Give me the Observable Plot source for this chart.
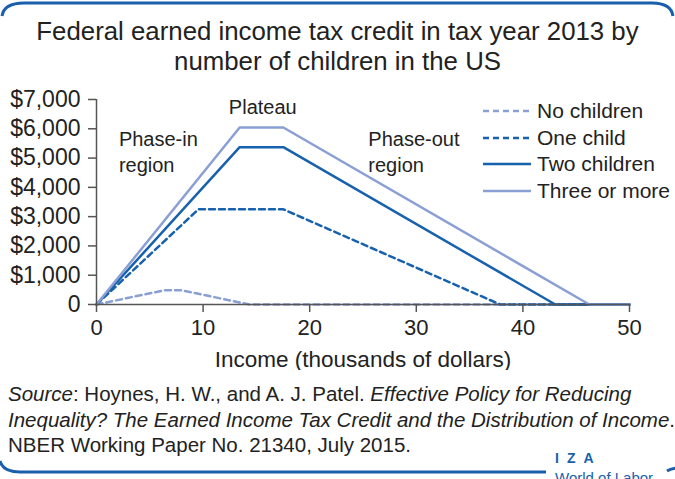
<!DOCTYPE html>
<html><head><meta charset="utf-8">
<script src="https://cdn.jsdelivr.net/npm/d3@7"></script>
<script src="https://cdn.jsdelivr.net/npm/@observablehq/plot@0.6"></script>
<style>
body{margin:0;background:#fff;font-family:"Liberation Sans",Arial,sans-serif;color:#222}
#wrap{position:relative;width:675px;height:479px;overflow:hidden;background:#fff}
#title{position:absolute;top:16px;left:0;width:675px;text-align:center;font-size:25.8px;line-height:30px;color:#222}
#chart{position:absolute;top:80px;left:0}
#legend{position:absolute;left:483px;top:98px;font-size:21px;color:#222}
.row{display:flex;align-items:center;height:26.5px}
.row svg{margin-right:6px}
#caption{position:absolute;left:8px;top:381px;font-size:20.5px;line-height:25.5px;color:#222;white-space:nowrap}
#frame{position:absolute;left:0;top:0}
#iza{position:absolute;left:555px;top:451px;color:#1761ad;font-weight:bold;font-size:14px;line-height:14px;letter-spacing:8px}
#wol{position:absolute;left:555px;top:470px;color:#1761ad;font-size:15px;line-height:15px}
</style></head>
<body>
<div id="wrap">
  <svg id="frame" width="675" height="479">
    <path d="M2,16 Q4,3 24,3 L652,3 Q671,3 673,16" fill="none" stroke="#1a5fac" stroke-width="3"/>
    <path d="M0,461 Q3,472 20,472 L546,472" fill="none" stroke="#1a5fac" stroke-width="3"/>
    <path d="M667,471 Q670,469 676,468" fill="none" stroke="#1a5fac" stroke-width="3"/>
  </svg>
  <div id="title">Federal earned income tax credit in tax year 2013 by<br>number of children in the US</div>
  <div id="chart"></div>
  <div id="legend"></div>
  <div id="caption"><i>Source</i>: Hoynes, H. W., and A. J. Patel. <i>Effective Policy for Reducing</i><br><i>Inequality? The Earned Income Tax Credit and the Distribution of Income</i>.<br>NBER Working Paper No. 21340, July 2015.</div>
  <div id="iza">IZA</div>
  <div id="wol">World of Labor</div>
</div>
<script>
// Data: EITC by income (thousands of dollars)
const seriesNames = ["No children", "One child", "Two children", "Three or more"];
const noChildrenIncome = [0, 6.37, 7.97, 14.34, 50];
const noChildrenCredit = [0, 487, 487, 0, 0];
const oneChildIncome = [0, 9.56, 17.53, 37.87, 50];
const oneChildCredit = [0, 3250, 3250, 0, 0];
const twoChildrenIncome = [0, 13.43, 17.53, 43.04, 50];
const twoChildrenCredit = [0, 5372, 5372, 0, 0];
const threeIncome = [0, 13.43, 17.53, 46.23, 50];
const threeCredit = [0, 6044, 6044, 0, 0];
const xTicks = [0, 10, 20, 30, 40, 50];
const yTicks = [0, 1000, 2000, 3000, 4000, 5000, 6000, 7000];
const centeredNotes = [{x: 15.6, y: 6720, text: "Plateau"}];
const leftNotes = [
  {x: 2.1, y: 5260, text: "Phase-in\nregion"},
  {x: 25.5, y: 5260, text: "Phase-out\nregion"}
];

const dark = "#1761ad", light = "#8a9fd3";
const styles = [
  {stroke: light, dash: "6,4"},
  {stroke: dark, dash: "6,4"},
  {stroke: dark, dash: null},
  {stroke: light, dash: null}
];
const xs = [noChildrenIncome, oneChildIncome, twoChildrenIncome, threeIncome];
const ys = [noChildrenCredit, oneChildCredit, twoChildrenCredit, threeCredit];
const tables = seriesNames.map((s, i) => xs[i].map((x, j) => ({series: s, income: x, credit: ys[i][j]})));

const lineMarks = tables.map((t, i) => Plot.line(t, {
  x: "income", y: "credit", stroke: styles[i].stroke, strokeWidth: 2.5,
  strokeDasharray: styles[i].dash || undefined
}));

const fmt = d => d === 0 ? "0" : "$" + d3.format(",")(d);

const plot = Plot.plot({
  width: 675, height: 290,
  marginLeft: 96, marginRight: 46, marginTop: 19, marginBottom: 66,
  style: {fontFamily: '"Liberation Sans", Arial, sans-serif', fontSize: "22px", color: "#222", background: "transparent"},
  x: {domain: [0, 50]},
  y: {domain: [0, 7000]},
  marks: [
    ...lineMarks,
    Plot.ruleY([0], {stroke: "#555", strokeWidth: 1.5}),
    Plot.ruleX([0], {stroke: "#555", strokeWidth: 1.5}),
    Plot.axisX({ticks: xTicks, tickSize: 8, tickPadding: 7, stroke: "#555", strokeWidth: 1.5, fontSize: 22, label: null}),
    Plot.axisX({ticks: [], label: "Income (thousands of dollars)", labelAnchor: "center", labelArrow: "none", labelOffset: 62, fontSize: 22.5}),
    Plot.axisY({ticks: yTicks, tickSize: 8, tickPadding: 8, tickFormat: fmt, stroke: "#555", strokeWidth: 1.5, fontSize: 23, label: null}),
    Plot.text(centeredNotes, {x: "x", y: "y", text: "text", textAnchor: "middle", fontSize: 20, fill: "#222"}),
    Plot.text(leftNotes, {x: "x", y: "y", text: "text", textAnchor: "start", fontSize: 20, lineHeight: 1.3, fill: "#222"})
  ]
});
document.getElementById("chart").appendChild(plot);

// Legend
const legend = document.getElementById("legend");
seriesNames.forEach((s, i) => {
  const row = document.createElement("div");
  row.className = "row";
  row.innerHTML = `<svg width="48" height="6"><line x1="0" x2="48" y1="3" y2="3" stroke="${styles[i].stroke}" stroke-width="2.5" ${styles[i].dash ? `stroke-dasharray="${styles[i].dash}"` : ""}/></svg><span>${s}</span>`;
  legend.appendChild(row);
});
</script>
</body></html>
